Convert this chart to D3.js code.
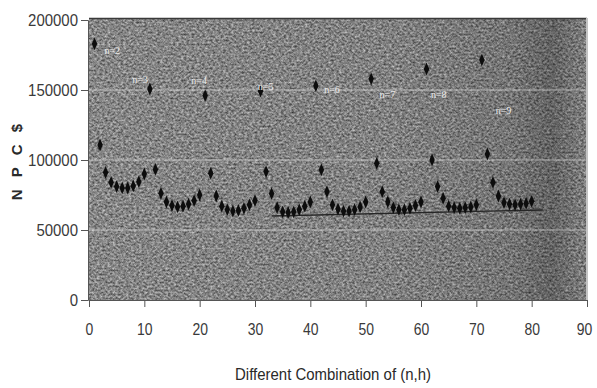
<!DOCTYPE html>
<html>
<head>
<meta charset="utf-8">
<script src="https://cdn.jsdelivr.net/npm/d3@7"></script>
<style>
  body { margin: 0; background: #fff; }
  svg { display: block; }
  .tick text { font-family: "Liberation Sans", Arial, sans-serif; fill: #3a3a3a; }
</style>
</head>
<body>
<svg id="chart" width="597" height="388"></svg>
<script>
// combination index (n,h) -> 1..80, ten per n
const combos = d3.range(1, 81);
const npc = [
  // n=2
  183000, 110700, 91000, 84000, 81000, 80000, 80000, 81500, 84500, 90000,
  // n=3
  150700, 93300, 76200, 70000, 67500, 66500, 67000, 68500, 71000, 75000,
  // n=4
  146000, 90500, 74300, 67000, 64500, 63500, 64000, 65500, 68000, 71000,
  // n=5
  149300, 91700, 76000, 66000, 63000, 62500, 63000, 64500, 67000, 70000,
  // n=6
  153000, 93000, 77400, 68000, 65000, 63500, 63500, 64500, 66500, 70000,
  // n=7
  158000, 97600, 77400, 70200, 66000, 64500, 64500, 65500, 67500, 70000,
  // n=8
  165000, 100000, 81000, 72600, 67000, 66000, 65500, 66000, 66500, 68000,
  // n=9
  171400, 104300, 84000, 74300, 69500, 68500, 68000, 68500, 69000, 70500
];
const nLabels = ['n=2', 'n=3', 'n=4', 'n=5', 'n=6', 'n=7', 'n=8', 'n=9'];
const labelX = [2.8, 7.8, 18.5, 30.5, 42.5, 52.5, 61.8, 73.5];
const labelY = [176000, 155000, 154000, 150000, 148000, 144000, 144000, 133000];
const xTicks = d3.range(0, 91, 10);
const yTicks = [0, 50000, 100000, 150000, 200000];
const minLine = [[33, 60000], [82, 64300]];

const svg = d3.select('#chart');
const x = d3.scaleLinear().domain([0, 90]).range([89, 587]);
const y = d3.scaleLinear().domain([0, 200000]).range([300, 20]);

// scanned-looking grainy background
const defs = svg.append('defs');
const f = defs.append('filter').attr('id', 'grain')
  .attr('filterUnits', 'userSpaceOnUse')
  .attr('x', x(0)).attr('y', 18).attr('width', x(90) - x(0)).attr('height', y(0) - 18)
  .attr('color-interpolation-filters', 'sRGB');
f.append('feTurbulence').attr('type', 'fractalNoise').attr('baseFrequency', '0.38 0.5')
  .attr('numOctaves', 3).attr('seed', 7).attr('result', 'n');
f.append('feColorMatrix').attr('in', 'n').attr('type', 'matrix')
  .attr('values', '0.75 0 0 0 0.16  0.75 0 0 0 0.16  0.75 0 0 0 0.16  0 0 0 0 1');

const shade = defs.append('linearGradient').attr('id', 'shade');
shade.append('stop').attr('offset', '0%').attr('stop-color', '#000').attr('stop-opacity', 0.02);
shade.append('stop').attr('offset', '60%').attr('stop-color', '#000').attr('stop-opacity', 0.06);
shade.append('stop').attr('offset', '85%').attr('stop-color', '#000').attr('stop-opacity', 0.15);
shade.append('stop').attr('offset', '93%').attr('stop-color', '#000').attr('stop-opacity', 0.28);
shade.append('stop').attr('offset', '100%').attr('stop-color', '#000').attr('stop-opacity', 0.08);

const plot = svg.append('g');
plot.append('rect')
  .attr('x', x(0)).attr('y', 18).attr('width', x(90) - x(0)).attr('height', y(0) - 18)
  .attr('fill', '#fff').attr('filter', 'url(#grain)');
plot.append('rect')
  .attr('x', x(0)).attr('y', 18).attr('width', x(90) - x(0)).attr('height', y(0) - 18)
  .attr('fill', 'url(#shade)');

// gridlines
plot.selectAll('.grid')
  .data(yTicks.slice(1, 4))
  .join('line')
  .attr('x1', x(0)).attr('x2', x(90))
  .attr('y1', d => y(d)).attr('y2', d => y(d))
  .attr('stroke', '#d4d4d4').attr('stroke-width', 1).attr('opacity', 0.7);
plot.append('line')
  .attr('x1', x(0)).attr('x2', x(90)).attr('y1', 18.5).attr('y2', 18.5)
  .attr('stroke', '#3a3a3a').attr('stroke-width', 1.5);
plot.append('line')
  .attr('x1', x(90)).attr('x2', x(90)).attr('y1', 18).attr('y2', y(0))
  .attr('stroke', '#c4c4c4').attr('stroke-width', 2);

plot.append('path')
  .datum(minLine)
  .attr('d', d3.line().x(d => x(d[0])).y(d => y(d[1])))
  .attr('stroke', '#262626').attr('stroke-width', 1.3).attr('fill', 'none');

// points
plot.selectAll('.pt')
  .data(combos)
  .join('path')
  .attr('d', d3.symbol(d3.symbolDiamond, 36))
  .attr('transform', (d, i) => `translate(${x(d)},${y(npc[i])}) scale(0.85,1.15)`)
  .attr('fill', '#0d0d0d');

// n labels
plot.selectAll('.nl')
  .data(nLabels)
  .join('text')
  .attr('x', (d, i) => x(labelX[i]))
  .attr('y', (d, i) => y(labelY[i]))
  .attr('font-family', '"Liberation Serif", "Times New Roman", serif')
  .attr('font-size', 10)
  .attr('fill', '#ececec')
  .text(d => d);

// squeeze text horizontally, like the narrow font of the original
const squeeze = (sel, k) => sel.each(function () {
  const w = this.getComputedTextLength();
  d3.select(this).attr('textLength', w * k).attr('lengthAdjust', 'spacingAndGlyphs');
});

// axes
const xAxis = svg.append('g')
  .attr('transform', `translate(0,${y(0)})`)
  .call(d3.axisBottom(x).tickValues(xTicks).tickSize(7).tickPadding(16).tickFormat(d3.format('d')));
xAxis.selectAll('text').attr('font-size', 17).call(squeeze, 0.82);
xAxis.selectAll('text').filter(d => d === 90).attr('dx', -3);
xAxis.selectAll('line, path').attr('stroke', '#555');

const yAxis = svg.append('g')
  .attr('transform', `translate(${x(0) - 1},0)`)
  .call(d3.axisLeft(y).tickValues(yTicks).tickSize(7).tickPadding(3).tickFormat(d3.format('d')));
yAxis.selectAll('text').attr('font-size', 17).call(squeeze, 0.88);
yAxis.selectAll('line, path').attr('stroke', '#555');

svg.append('text')
  .attr('transform', `translate(22,${(y(0) + y(200000)) / 2}) rotate(-90)`)
  .attr('text-anchor', 'middle')
  .attr('font-family', '"Liberation Sans", Arial, sans-serif')
  .attr('font-weight', 'bold')
  .attr('font-size', 15)
  .attr('letter-spacing', 4)
  .attr('fill', '#2a2a2a')
  .text('N P C $');

svg.append('text')
  .attr('x', 333).attr('y', 380)
  .attr('text-anchor', 'middle')
  .attr('font-family', '"Liberation Sans", Arial, sans-serif')
  .attr('font-size', 17)
  .attr('fill', '#2a2a2a')
  .call(s => s.text('Different Combination of (n,h)'))
  .call(squeeze, 0.88);
</script>
</body>
</html>
